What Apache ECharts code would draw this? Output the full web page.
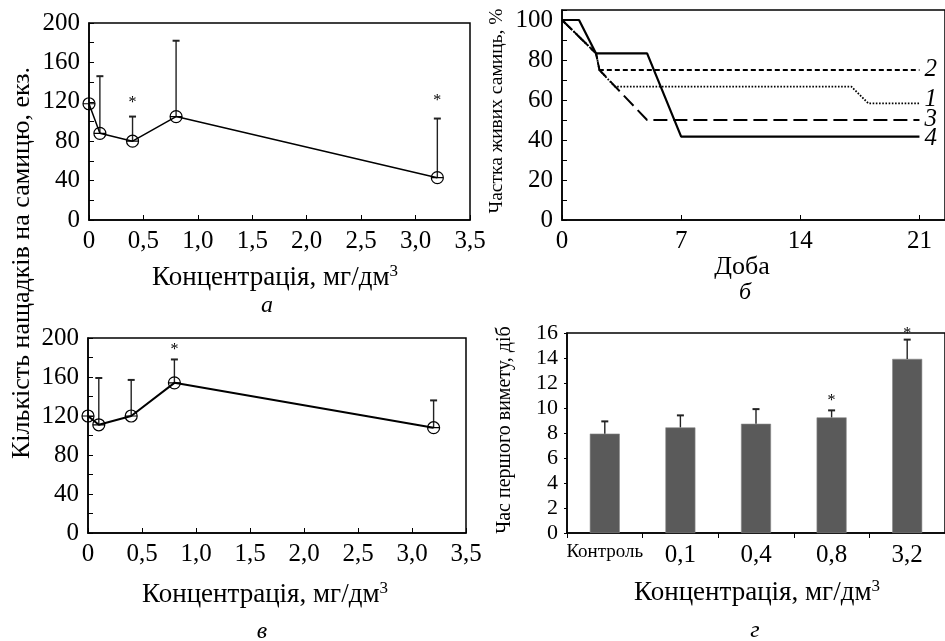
<!DOCTYPE html>
<html>
<head>
<meta charset="utf-8">
<script src="https://cdn.jsdelivr.net/npm/echarts@6/dist/echarts.min.js"></script>
<style>
html,body{margin:0;padding:0;background:#fff;}
#c{width:945px;height:641px;}
</style>
</head>
<body>
<div id="c"></div>
<script>
// ---- Panel а: offspring per female ----
const concA = [0, 0.1, 0.4, 0.8, 3.2];
const meanA = [118, 88, 80, 105, 43];
const upperA = [null, 146, 105, 182, 103];
const starA = [null, null, 122, null, 124];

// ---- Panel в ----
const concV = [0, 0.1, 0.4, 0.8, 3.2];
const meanV = [120, 111, 120, 154, 108];
const upperV = [null, 159, 157, 178, 136];
const starV = [null, null, null, 191, null];

// ---- Panel б: survival of females, % ----
const days1 = [0, 2, 2.2, 3.1, 17, 18, 21];
const surv1 = [100, 83.3, 75, 66.7, 66.7, 58.3, 58.3];
const days2 = [0, 2, 2.2, 21];
const surv2 = [100, 83.3, 75, 75];
const days3 = [0, 2, 2.2, 5, 21];
const surv3 = [100, 83.3, 75, 50, 50];
const days4 = [0, 1, 2, 5, 7, 21];
const surv4 = [100, 100, 83.3, 83.3, 41.7, 41.7];
const lineNames = ['1', '2', '3', '4'];

// ---- Panel г: time of first brood, days ----
const catsG = ['Контроль', '0,1', '0,4', '0,8', '3,2'];
const meanG = [7.95, 8.45, 8.74, 9.25, 13.93];
const upperG = [8.93, 9.41, 9.91, 9.81, 15.47];
const starG = [null, null, null, 10.8, 16.2];

const FF = '"Liberation Serif", "DejaVu Serif", serif';
const pairs = (xs, ys) => xs.map((x, i) => [x, ys[i]]);
const comma1 = v => v === 0 ? '0' : v.toFixed(1).replace('.', ',');

function errRender(params, api) {
  const x = api.value(0), m = api.value(1), u = api.value(2);
  const p0 = api.coord([x, m]), p1 = api.coord([x, u]);
  const hw = 3.5;
  return {type: 'group', children: [
    {type: 'line', shape: {x1: p0[0], y1: p0[1], x2: p1[0], y2: p1[1]}, style: {stroke: '#222', lineWidth: 1.4}},
    {type: 'line', shape: {x1: p1[0] - hw, y1: p1[1], x2: p1[0] + hw, y2: p1[1]}, style: {stroke: '#222', lineWidth: 2}}
  ]};
}
function starRender(params, api) {
  const p = api.coord([api.value(0), api.value(1)]);
  return {type: 'text', style: {text: '*', x: p[0], y: p[1] + 3, align: 'center', verticalAlign: 'middle', font: '16px ' + FF, fill: '#000'}};
}
const errData = (xs, us, ms) => xs.map((x, i) => [x, ms[i], us[i]]).filter(d => d[2] != null);
const starData = (xs, ss) => xs.map((x, i) => [x, ss[i]]).filter(d => d[1] != null);

const circSym = 'path://M0,10 A10,10 0 1,1 20,10 A10,10 0 1,1 0,10 Z M0,10 L20,10';

const axisLine = {show: true, lineStyle: {color: '#000', width: 1.5}};
function valX(gi, extra) {
  return Object.assign({
    type: 'value', gridIndex: gi, splitLine: {show: false},
    axisLine: axisLine,
    axisTick: {show: true, inside: true, length: 5, lineStyle: {color: '#000'}},
    axisLabel: {fontFamily: FF, fontSize: 25, color: '#000', margin: 9, formatter: comma1}
  }, extra);
}
function valY(gi, extra) {
  return Object.assign({
    type: 'value', gridIndex: gi, splitLine: {show: false},
    axisLine: axisLine,
    axisTick: {show: true, inside: true, length: 5, lineStyle: {color: '#000'}},
    minorTick: {show: true, splitNumber: 2, length: 5, lineStyle: {color: '#000'}},
    axisLabel: {fontFamily: FF, fontSize: 25, color: '#000', margin: 9}
  }, extra);
}

const gridStyle = {show: true, borderColor: '#000', borderWidth: 1.5, backgroundColor: 'transparent'};

function titleText(text, x, y, size, rot, italic) {
  return {type: 'text', x: x, y: y, rotation: rot || 0,
    style: {text: text, align: 'center', verticalAlign: 'middle', fill: '#000',
      font: (italic ? 'italic ' : '') + size + 'px ' + FF}};
}
function concTitle(x, y) {
  return {type: 'text', x: x, y: y,
    style: {text: '{a|Концентрація, мг/дм}{s|3}', align: 'center', verticalAlign: 'middle',
      rich: {a: {fontFamily: FF, fontSize: 27, color: '#000', lineHeight: 30},
             s: {fontFamily: FF, fontSize: 17, color: '#000', verticalAlign: 'top', lineHeight: 30}}}};
}
function endLbl(name, off) {
  return {show: true, formatter: name, fontFamily: FF, fontStyle: 'italic', fontSize: 25, color: '#000', distance: 5, offset: off};
}

const chart = echarts.init(document.getElementById('c'), null, {renderer: 'canvas'});
chart.setOption({
  animation: false,
  backgroundColor: '#fff',
  grid: [
    Object.assign({left: 89, top: 23, width: 381, height: 197}, gridStyle),
    Object.assign({left: 562, top: 10, width: 389, height: 210}, gridStyle),
    Object.assign({left: 88, top: 338, width: 378, height: 195}, gridStyle),
    Object.assign({left: 567, top: 333, width: 383, height: 200}, gridStyle)
  ],
  xAxis: [
    valX(0, {min: 0, max: 3.5, interval: 0.5}),
    valX(1, {min: 0, max: 22.5, interval: 7, axisLabel: {fontFamily: FF, fontSize: 25, color: '#000', margin: 9, showMaxLabel: false}}),
    valX(2, {min: 0, max: 3.5, interval: 0.5}),
    {type: 'category', gridIndex: 3, data: catsG, boundaryGap: true,
      axisLine: axisLine,
      axisTick: {show: true, inside: false, length: 5, alignWithLabel: false, lineStyle: {color: '#000'}},
      axisLabel: {fontFamily: FF, fontSize: 25, color: '#000', margin: 10, interval: 0,
        formatter: v => v === catsG[0] ? '{n|' + v + '}' : v,
        rich: {n: {fontFamily: FF, fontSize: 19, color: '#000'}}}}
  ],
  yAxis: [
    valY(0, {min: 0, max: 200, interval: 40}),
    valY(1, {min: 0, max: 105, interval: 20, axisLabel: {fontFamily: FF, fontSize: 25, color: '#000', margin: 9, showMaxLabel: false}}),
    valY(2, {min: 0, max: 200, interval: 40}),
    {type: 'value', gridIndex: 3, min: 0, max: 16, interval: 2, splitLine: {show: false},
      axisLine: axisLine,
      axisTick: {show: true, inside: false, length: 3, lineStyle: {color: '#000'}},
      axisLabel: {fontFamily: FF, fontSize: 22, color: '#000', margin: 9}}
  ],
  series: [
    // а
    {type: 'line', xAxisIndex: 0, yAxisIndex: 0, data: pairs(concA, meanA),
      symbol: circSym, symbolSize: 12, lineStyle: {color: '#000', width: 1.5},
      itemStyle: {color: 'transparent', borderColor: '#000', borderWidth: 1.2}, z: 3},
    {type: 'custom', xAxisIndex: 0, yAxisIndex: 0, data: errData(concA, upperA, meanA), renderItem: errRender, z: 2},
    {type: 'custom', xAxisIndex: 0, yAxisIndex: 0, data: starData(concA, starA), renderItem: starRender},
    // б
    {type: 'line', name: lineNames[0], xAxisIndex: 1, yAxisIndex: 1, data: pairs(days1, surv1), symbol: 'none',
      lineStyle: {color: '#000', width: 1.8, type: [1.6, 1.6]}, endLabel: endLbl(lineNames[0], [0, -4])},
    {type: 'line', name: lineNames[1], xAxisIndex: 1, yAxisIndex: 1, data: pairs(days2, surv2), symbol: 'none',
      lineStyle: {color: '#000', width: 1.8, type: [5, 3]}, endLabel: endLbl(lineNames[1], [0, -1])},
    {type: 'line', name: lineNames[2], xAxisIndex: 1, yAxisIndex: 1, data: pairs(days3, surv3), symbol: 'none',
      lineStyle: {color: '#000', width: 2, type: [14, 6]}, endLabel: endLbl(lineNames[2], [0, -1])},
    {type: 'line', name: lineNames[3], xAxisIndex: 1, yAxisIndex: 1, data: pairs(days4, surv4), symbol: 'none',
      lineStyle: {color: '#000', width: 2.2}, endLabel: endLbl(lineNames[3], [0, 2])},
    // в
    {type: 'line', xAxisIndex: 2, yAxisIndex: 2, data: pairs(concV, meanV),
      symbol: circSym, symbolSize: 12, lineStyle: {color: '#000', width: 2},
      itemStyle: {color: 'transparent', borderColor: '#000', borderWidth: 1.2}, z: 3},
    {type: 'custom', xAxisIndex: 2, yAxisIndex: 2, data: errData(concV, upperV, meanV), renderItem: errRender, z: 2},
    {type: 'custom', xAxisIndex: 2, yAxisIndex: 2, data: starData(concV, starV), renderItem: starRender},
    // г
    {type: 'bar', xAxisIndex: 3, yAxisIndex: 3, data: meanG, barWidth: 30,
      itemStyle: {color: '#5a5a5a', borderColor: '#8a8a8a', borderWidth: 0.6}},
    {type: 'custom', xAxisIndex: 3, yAxisIndex: 3, data: catsG.map((c, i) => [i, meanG[i], upperG[i]]), renderItem: errRender, z: 3},
    {type: 'custom', xAxisIndex: 3, yAxisIndex: 3, data: catsG.map((c, i) => [i, starG[i]]).filter(d => d[1] != null), renderItem: starRender, z: 4}
  ],
  graphic: [
    titleText('Кількість нащадків на самицю, екз.', 22, 263, 26, Math.PI / 2),
    concTitle(275, 278),
    titleText('а', 267, 306, 24, 0, true),
    titleText('Частка живих самиць, %', 497, 111, 19.5, Math.PI / 2),
    titleText('Доба', 742, 267, 26),
    titleText('б', 745, 293, 24, 0, true),
    concTitle(265, 595),
    titleText('в', 262, 632, 24, 0, true),
    titleText('Час першого вимету, діб', 505, 430, 20, Math.PI / 2),
    concTitle(757, 593),
    titleText('г', 755, 631, 24, 0, true)
  ]
});
</script>
</body>
</html>
